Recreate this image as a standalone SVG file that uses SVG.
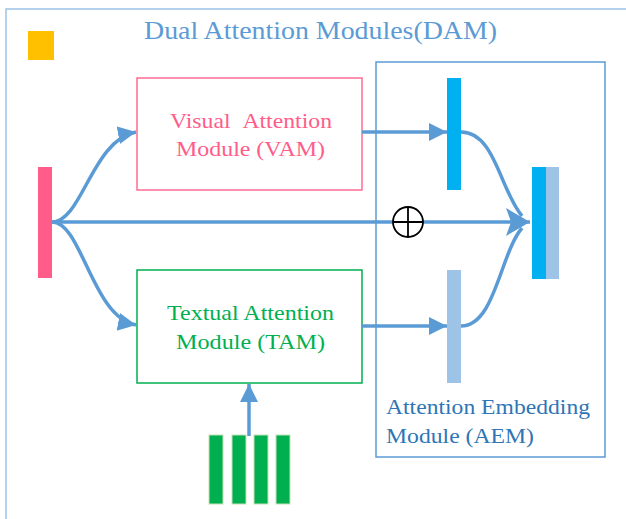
<svg xmlns="http://www.w3.org/2000/svg" width="626" height="519" viewBox="0 0 626 519">
  <style>
    text { font-family: "Liberation Serif", Tinos, "Times New Roman", Times, serif; }
    .conn { fill: none; stroke: #5B9BD5; stroke-width: 3.5; }
    .box { fill: #FFFFFF; stroke-width: 1.5; }
  </style>
  <defs>
    <marker id="ah" markerUnits="userSpaceOnUse" markerWidth="20" markerHeight="20" refX="18" refY="9" orient="auto">
      <path d="M0,0 L18,9 L0,18 z" fill="#5B9BD5"/>
    </marker>
    <marker id="ahBig" markerUnits="userSpaceOnUse" markerWidth="26" markerHeight="30" refX="24" refY="14" orient="auto">
      <path d="M0,0 L24,14 L0,28 L5,14 z" fill="#5B9BD5"/>
    </marker>
  </defs>
  <rect width="626" height="519" fill="#FFFFFF"/>

  <g id="dam-frame">
    <rect x="6" y="9" width="650" height="540" fill="none" stroke="#9DC3E6" stroke-width="1.5"/>
    <text x="144" y="39" font-size="26" fill="#5B9BD5" textLength="353" lengthAdjust="spacingAndGlyphs">Dual Attention Modules(DAM)</text>
  </g>

  <g id="yellow-square">
    <rect x="28" y="31" width="26" height="29" fill="#FFC000"/>
  </g>

  <g id="aem">
    <rect x="376" y="62" width="229" height="395" fill="none" stroke="#5B9BD5" stroke-width="1.5"/>
    <text x="386" y="414" font-size="22" fill="#2E75B6" textLength="204" lengthAdjust="spacingAndGlyphs">Attention Embedding</text>
    <text x="386" y="443" font-size="22" fill="#2E75B6" textLength="148" lengthAdjust="spacingAndGlyphs">Module (AEM)</text>
  </g>

  <g id="vam">
    <rect class="box" x="137" y="78" width="225" height="112" stroke="#FF6B93"/>
    <text x="170" y="128" font-size="22" fill="#FF5C8A" textLength="162" lengthAdjust="spacingAndGlyphs">Visual&#160;&#160;Attention</text>
    <text x="176" y="156" font-size="22" fill="#FF5C8A" textLength="149" lengthAdjust="spacingAndGlyphs">Module (VAM)</text>
  </g>

  <g id="tam">
    <rect class="box" x="137" y="270" width="225" height="113" stroke="#00B050"/>
    <text x="167" y="320" font-size="22" fill="#00B050" textLength="167" lengthAdjust="spacingAndGlyphs">Textual Attention</text>
    <text x="176" y="349" font-size="22" fill="#00B050" textLength="149" lengthAdjust="spacingAndGlyphs">Module (TAM)</text>
  </g>

  <g id="connectors">
    <path class="conn" d="M52,222 L530,222" marker-end="url(#ahBig)"/>
    <path class="conn" d="M52,222 C82,222 92,140 136,132" marker-end="url(#ah)"/>
    <path class="conn" d="M52,222 C82,222 92,317 136,325" marker-end="url(#ah)"/>
    <path class="conn" d="M362,132 L447,132" marker-end="url(#ah)"/>
    <path class="conn" d="M362,326 L447,326" marker-end="url(#ah)"/>
    <path class="conn" d="M461,132 C495,132 500,190 522,216"/>
    <path class="conn" d="M461,326 C495,326 500,254 522,228"/>
    <path class="conn" d="M249,436 L249,384" marker-end="url(#ah)"/>
  </g>

  <g id="oplus">
    <circle cx="408" cy="222" r="15" fill="#FFFFFF" stroke="#000000" stroke-width="1.8"/>
    <path d="M393,222 H423 M408,207 V237" stroke="#000000" stroke-width="1.8"/>
  </g>

  <g id="input-bar">
    <rect x="38" y="167" width="14" height="111" fill="#FF5C8A"/>
  </g>

  <g id="visual-feature">
    <rect x="447" y="78" width="14" height="112" fill="#00B0F0"/>
  </g>

  <g id="textual-feature">
    <rect x="447" y="270" width="14" height="113" fill="#9DC3E6"/>
  </g>

  <g id="joint-embedding">
    <rect x="532" y="167" width="14" height="112" fill="#00B0F0"/>
    <rect x="546" y="167" width="13" height="112" fill="#9DC3E6"/>
  </g>

  <g id="word-features">
    <rect x="209" y="435" width="14" height="69" fill="#00B050" stroke="#C5E0B4" stroke-width="1"/>
    <rect x="232" y="435" width="14" height="69" fill="#00B050" stroke="#C5E0B4" stroke-width="1"/>
    <rect x="254" y="435" width="14" height="69" fill="#00B050" stroke="#C5E0B4" stroke-width="1"/>
    <rect x="276" y="435" width="14" height="69" fill="#00B050" stroke="#C5E0B4" stroke-width="1"/>
  </g>
</svg>
